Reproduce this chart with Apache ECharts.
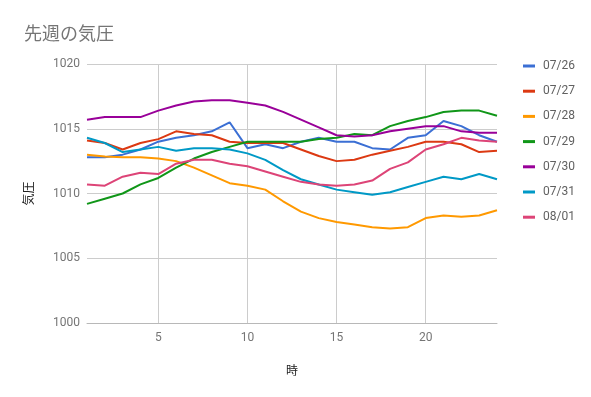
<!DOCTYPE html>
<html>
<head>
<meta charset="utf-8">
<script src="https://cdn.jsdelivr.net/npm/echarts@6/dist/echarts.min.js"></script>
<style>
  html, body { margin: 0; padding: 0; background: #fff; }
  #chart { width: 591px; height: 397px; }
</style>
</head>
<body>
<div id="chart"></div>
<script>
var hours = [1, 2, 3, 4, 5, 6, 7, 8, 9, 10, 11, 12, 13, 14, 15, 16, 17, 18, 19, 20, 21, 22, 23, 24];
var xTicks = [5, 10, 15, 20];
var dayNames = ['07/26', '07/27', '07/28', '07/29', '07/30', '07/31', '08/01'];

var p0726 = [1012.8, 1012.8, 1013.0, 1013.4, 1014.0, 1014.3, 1014.5, 1014.8, 1015.5, 1013.5, 1013.8, 1013.5, 1014.0, 1014.3, 1014.0, 1014.0, 1013.5, 1013.4, 1014.3, 1014.5, 1015.6, 1015.2, 1014.5, 1014.0];
var p0727 = [1014.1, 1013.9, 1013.4, 1013.9, 1014.2, 1014.8, 1014.6, 1014.5, 1014.0, 1013.9, 1013.9, 1013.9, 1013.4, 1012.9, 1012.5, 1012.6, 1013.0, 1013.3, 1013.6, 1014.0, 1014.0, 1013.8, 1013.2, 1013.3];
var p0728 = [1013.0, 1012.85, 1012.8, 1012.8, 1012.7, 1012.5, 1012.0, 1011.4, 1010.8, 1010.6, 1010.3, 1009.4, 1008.6, 1008.1, 1007.8, 1007.6, 1007.4, 1007.3, 1007.4, 1008.1, 1008.3, 1008.2, 1008.3, 1008.7];
var p0729 = [1009.2, 1009.6, 1010.0, 1010.7, 1011.2, 1012.0, 1012.7, 1013.2, 1013.6, 1014.0, 1014.0, 1014.0, 1014.0, 1014.2, 1014.3, 1014.6, 1014.5, 1015.2, 1015.6, 1015.9, 1016.3, 1016.4, 1016.4, 1016.0];
var p0730 = [1015.7, 1015.9, 1015.9, 1015.9, 1016.4, 1016.8, 1017.1, 1017.2, 1017.2, 1017.0, 1016.8, 1016.3, 1015.7, 1015.1, 1014.5, 1014.4, 1014.5, 1014.8, 1015.0, 1015.2, 1015.2, 1014.8, 1014.7, 1014.7];
var p0731 = [1014.3, 1013.9, 1013.2, 1013.4, 1013.6, 1013.3, 1013.5, 1013.5, 1013.4, 1013.1, 1012.6, 1011.8, 1011.1, 1010.7, 1010.3, 1010.1, 1009.9, 1010.1, 1010.5, 1010.9, 1011.3, 1011.1, 1011.5, 1011.1];
var p0801 = [1010.7, 1010.6, 1011.3, 1011.6, 1011.5, 1012.3, 1012.6, 1012.6, 1012.3, 1012.1, 1011.7, 1011.3, 1010.9, 1010.7, 1010.6, 1010.7, 1011.0, 1011.9, 1012.4, 1013.4, 1013.8, 1014.3, 1014.1, 1014.0];

var allDays = [p0726, p0727, p0728, p0729, p0730, p0731, p0801];
var colors = ['#3b6fd4', '#dc3912', '#ff9900', '#109618', '#990099', '#0099c6', '#dd4477'];

var chart = echarts.init(document.getElementById('chart'));

// x軸は5時間ごとに目盛り
function isTick(index, value) {
    return xTicks.indexOf(Number(value)) >= 0;
}

var series = dayNames.map(function (name, i) {
    return {
        name: name,
        type: 'line',
        data: allDays[i],
        showSymbol: false,
        symbol: 'none',
        lineStyle: { width: 2, color: colors[i] },
        itemStyle: { color: colors[i] }
    };
});

chart.setOption({
    animation: false,
    textStyle: { fontFamily: 'Roboto, "Noto Sans CJK JP", sans-serif' },
    title: {
        text: '先週の気圧',
        left: 19,
        top: 19,
        textStyle: {
            fontFamily: '"Noto Sans CJK JP", sans-serif',
            fontSize: 18,
            fontWeight: 'normal',
            color: '#757575'
        }
    },
    grid: {
        left: 87,
        right: 94,
        top: 64,
        bottom: 74
    },
    legend: {
        orient: 'vertical',
        left: 518,
        top: 55,
        itemWidth: 12,
        itemHeight: 3,
        itemGap: 13.2,
        icon: 'rect',
        data: dayNames,
        textStyle: { color: '#616161', fontSize: 12, padding: [0, 0, 0, 3] }
    },
    xAxis: {
        type: 'category',
        data: hours,
        boundaryGap: false,
        name: '時',
        nameLocation: 'middle',
        nameGap: 41,
        nameTextStyle: { color: '#222', fontSize: 12, fontFamily: '"Noto Sans CJK JP", sans-serif' },
        axisLine: { show: true, lineStyle: { color: '#b8b8b8', width: 1 } },
        axisTick: { show: false },
        axisLabel: {
            interval: isTick,
            color: '#757575',
            fontSize: 12,
            margin: 9
        },
        splitLine: {
            show: true,
            interval: isTick,
            lineStyle: { color: '#cccccc', width: 1 }
        }
    },
    yAxis: {
        type: 'value',
        min: 1000,
        max: 1020,
        interval: 5,
        name: '気圧',
        nameLocation: 'middle',
        nameRotate: 90,
        nameGap: 53,
        nameTextStyle: { color: '#222', fontSize: 12, fontFamily: '"Noto Sans CJK JP", sans-serif' },
        axisLine: { show: false },
        axisTick: { show: false },
        axisLabel: {
            color: '#757575',
            fontSize: 12,
            margin: 7,
            formatter: function (v) { return String(v); }
        },
        splitLine: { lineStyle: { color: '#cccccc', width: 1 } }
    },
    series: series
});
</script>
</body>
</html>
